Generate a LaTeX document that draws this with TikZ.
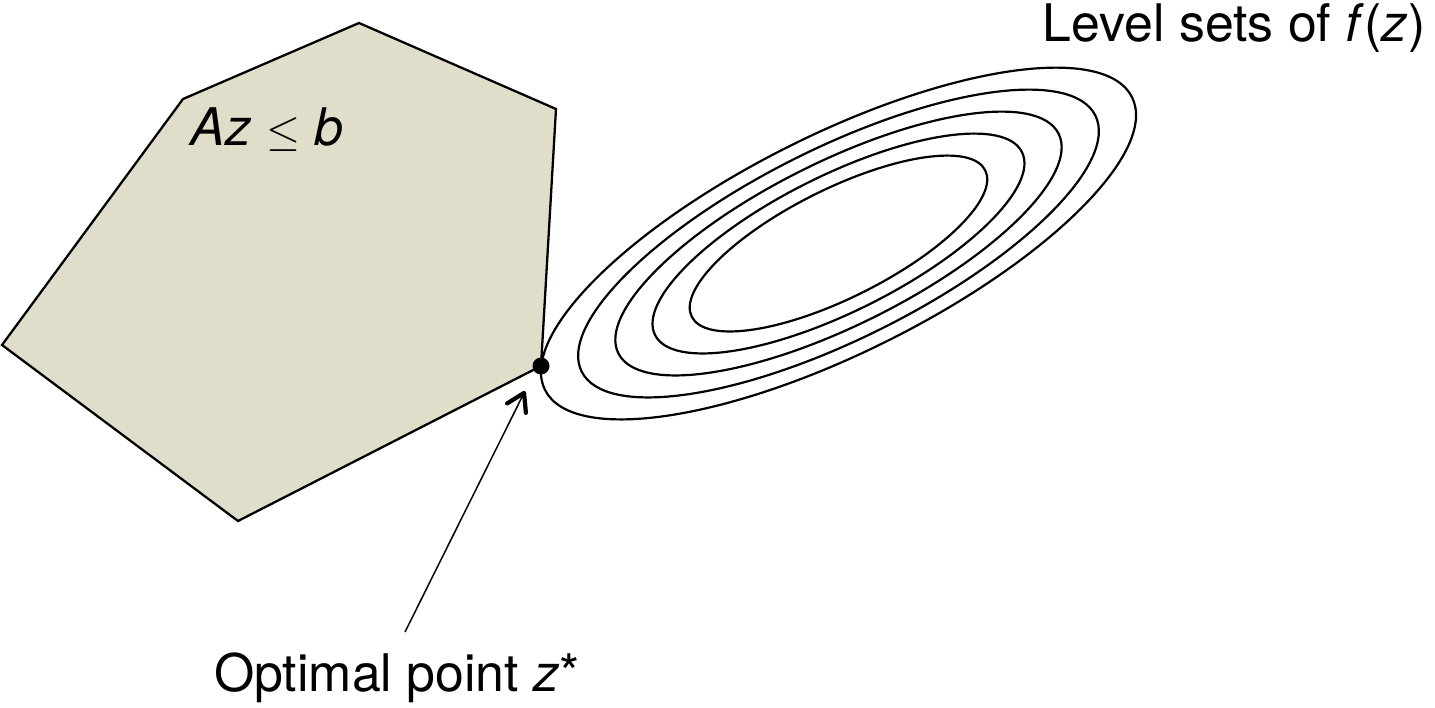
\documentclass[tikz,border=0pt]{standalone}
\usepackage{fontspec}
\setmainfont{TeX Gyre Heros}
\usepackage{tikz}
\usetikzlibrary{arrows.meta}
\definecolor{polyFill}{RGB}{224, 222, 203}

\begin{document}
\begin{tikzpicture}[x=0.02cm, y=0.02cm,
    lbl/.style={font=\fontsize{29.5}{34}\selectfont, inner sep=0pt}]
        \useasboundingbox (0,0) rectangle (1435,707);
        \draw[fill=polyFill, line width=1.3pt, line join=miter]
          (183,608) -- (359,684) -- (556,598) -- (541,341) -- (238,186) -- (2,362) -- cycle;
        \coordinate (ctr) at (838.5,463.5);
        \foreach \s in {0.5,0.625,0.75,0.875,1}
          \draw[line width=1.25pt, rotate around={26.5:(ctr)}] (ctr) ellipse ({328*\s} and {109*\s});
        \coordinate (zstar) at (541,341);
        \fill (zstar) circle (8.5);
        \node[lbl] (poly) at (267,577) {\textit{Az} $\leq$ \textit{b}};
        \node[lbl] (level) at (1234,679) {Level sets of \textit{f}(\textit{z})};
        \node[lbl] (optlabel) at (397,29) {Optimal point \textit{z}*};
        \coordinate (arrowstart) at (405,75);
        \coordinate (arrowtip) at (525,316);
        \draw[line width=0.85pt, -{Straight Barb[length=0.34cm, width=0.42cm, line width=2.4pt, round]}]
          (arrowstart) -- (arrowtip);
      \end{tikzpicture}
\end{document}
